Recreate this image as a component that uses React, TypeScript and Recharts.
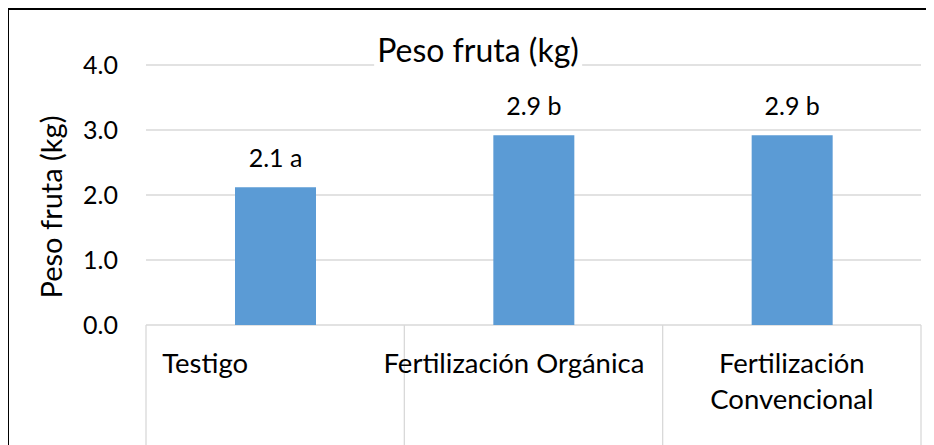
import { BarChart, Bar, XAxis, YAxis, CartesianGrid, LabelList } from 'recharts';

const categorias = ['Testigo', 'Fertilización Orgánica', 'Fertilización Convencional'];
const pesos = [2.12, 2.92, 2.92];
const letras = ['a', 'b', 'b'];
const etiquetasEje = [['Testigo'], ['Fertilización Orgánica'], ['Fertilización', 'Convencional']];
const ticksY = [0, 1, 2, 3, 4];
// integer ticks = category borders, half ticks = category labels
const ticksX = [0, 0.5, 1, 1.5, 2, 2.5, 3];

const data = categorias.map((c, i) => ({
  name: c,
  pos: i + 0.5,
  peso: pesos[i],
  etiqueta: `${pesos[i].toFixed(1)} ${letras[i]}`,
}));

const FONT = 'Lato, "Open Sans", sans-serif';
const GRID = '#d9d9d9';

// Excel puts these labels a bit off-centre; mimic it per tick
const tickStyle = [
  { anchor: 'start', dx: -113 },
  { anchor: 'start', dx: -150 },
  { anchor: 'middle', dx: 0 },
];

function BorderTick({ x, y, payload }: any) {
  const v = payload.value;
  if (Number.isInteger(v)) {
    return <line x1={x} x2={x} y1={y} y2={y + 140} stroke={GRID} strokeWidth={1.3} />;
  }
  const i = Math.floor(v);
  const lines = etiquetasEje[i] ?? [];
  const st = tickStyle[i] ?? { anchor: 'middle', dx: 0 };
  return (
    <text
      x={x + st.dx}
      y={y}
      textAnchor={st.anchor}
      fontFamily={FONT}
      fontSize={27.5}
      fill="#000"
    >
      {lines.map((l: string, k: number) => (
        <tspan key={k} x={x + st.dx} dy={k === 0 ? 48 : 36}>
          {l}
        </tspan>
      ))}
    </text>
  );
}

function YLabel({ viewBox }: any) {
  const cx = viewBox.x + 41;
  const cy = viewBox.y + viewBox.height / 2 + 12;
  return (
    <text
      x={cx}
      y={cy}
      transform={`rotate(-90 ${cx} ${cy})`}
      textAnchor="middle"
      dominantBaseline="central"
      fontFamily={FONT}
      fontSize={29}
      fill="#000"
    >
      Peso fruta (kg)
    </text>
  );
}

export default function App() {
  return (
    <div style={{ width: 927, height: 437, overflow: 'hidden', marginLeft: -1 }}>
      <div
        style={{
          position: 'relative',
          width: 980,
          height: 480,
          border: '2px solid #000',
          boxSizing: 'border-box',
          background: '#fff',
        }}
      >
        <div
          style={{
            position: 'absolute',
            top: 24,
            left: 469,
            transform: 'translateX(-50%)',
            background: '#fff',
            padding: '0 3px',
            fontFamily: FONT,
            fontSize: 32,
            lineHeight: 1,
            whiteSpace: 'nowrap',
            zIndex: 2,
          }}
        >
          Peso fruta (kg)
        </div>
        <BarChart
          width={970}
          height={470}
          data={data}
          margin={{ top: 55, right: 58, bottom: 4, left: 0 }}
        >
          <CartesianGrid
            xAxisId="cat"
            horizontal
            vertical={false}
            stroke={GRID}
            strokeWidth={1.3}
          />
          <XAxis xAxisId="cat" dataKey="name" hide height={0} />
          <XAxis
            xAxisId="sep"
            dataKey="pos"
            type="number"
            domain={[0, 3]}
            ticks={ticksX}
            allowDataOverflow
            interval={0}
            height={151}
            axisLine={false}
            tickLine={false}
            tickSize={0}
            tickMargin={0}
            tick={<BorderTick />}
          />
          <YAxis
            domain={[0, 4]}
            ticks={ticksY}
            width={137}
            axisLine={false}
            tickLine={false}
            tickSize={0}
            tickMargin={28}
            tickFormatter={(v) => v.toFixed(1)}
            tick={{ fontFamily: FONT, fontSize: 25, fill: '#000' }}
            label={<YLabel />}
          />
          <Bar
            xAxisId="cat"
            dataKey="peso"
            fill="#5b9bd5"
            barSize={81}
            isAnimationActive={false}
          >
            <LabelList
              dataKey="etiqueta"
              position="top"
              offset={20}
              fontFamily={FONT}
              fontSize={25}
              fill="#000"
            />
          </Bar>
        </BarChart>
      </div>
    </div>
  );
}
